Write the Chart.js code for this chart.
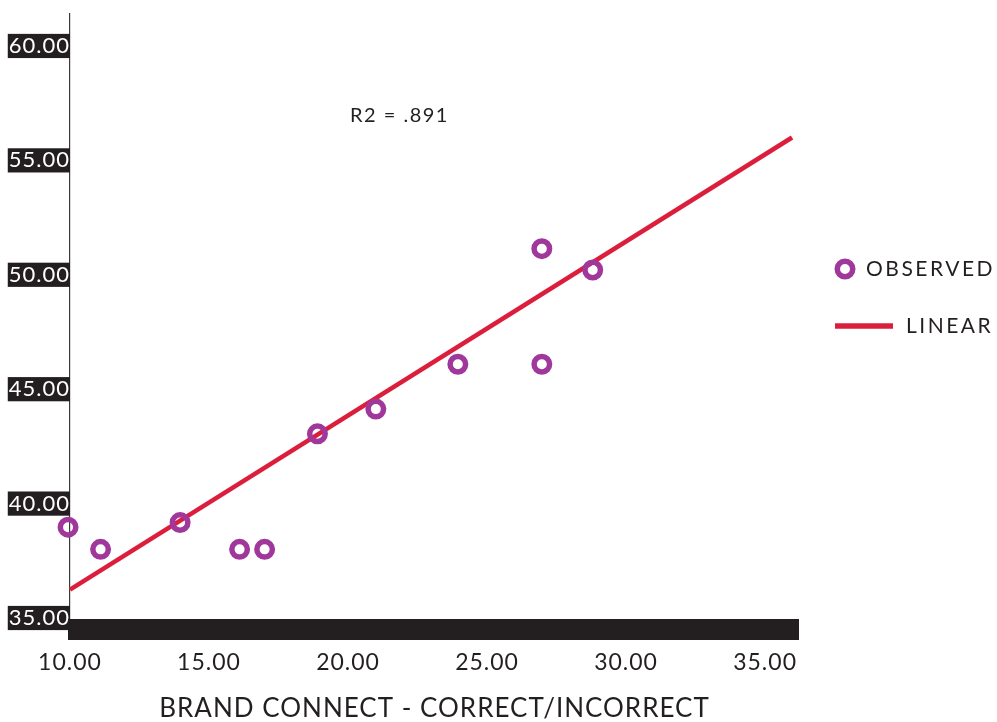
<!DOCTYPE html>
<html>
<head>
<meta charset="utf-8">
<title>Brand connect scatter</title>
<script src="https://cdn.jsdelivr.net/npm/chart.js@4.4.1/dist/chart.umd.min.js"></script>
<style>
    html, body { margin: 0; padding: 0; background: #fff; }
    #wrap { width: 997px; height: 722px; }
</style>
</head>
<body>
<div id="wrap"><canvas id="scatterChart"></canvas></div>
<script>
// values
const observedX = [9.93, 11.1, 13.96, 16.1, 17.0, 18.9, 21.0, 23.95, 26.97, 26.97, 28.8];
const observedY = [38.97, 38.0, 39.17, 38.0, 38.0, 43.05, 44.13, 46.09, 51.14, 46.09, 50.21];
const linearX = [10, 35.97];
const linearY = [36.24, 56.0];
const xTicks = [10, 15, 20, 25, 30, 35];
const yTicks = [35, 40, 45, 50, 55, 60];
const seriesNames = ['OBSERVED', 'LINEAR'];
const fitLabel = 'R2 = .891';
const xTitle = 'BRAND CONNECT - CORRECT/INCORRECT';

const INK = '#231f20';
const PURPLE = '#a0379b';
const RED = '#dc1e3d';

// a bit of tracking so Lato gets closer to the wide original lettering
const tracking = {
    id: 'tracking',
    beforeLayout(chart) { chart.ctx.letterSpacing = '1px'; },
    beforeDraw(chart) { chart.ctx.letterSpacing = '1px'; }
};

// black bar under the plot, the R2 note and the legend on the right
const extras = {
    id: 'extras',
    afterDraw(chart) {
        const { ctx, chartArea, scales } = chart;
        ctx.save();
        ctx.fillStyle = INK;
        ctx.fillRect(chartArea.left - 2, chartArea.bottom + 1, chartArea.right - chartArea.left + 2, 21);

        ctx.fillStyle = INK;
        ctx.font = '20px Lato';
        ctx.letterSpacing = '1.5px';
        ctx.textAlign = 'left';
        ctx.textBaseline = 'middle';
        ctx.fillText(fitLabel, scales.x.getPixelForValue(20.07), scales.y.getPixelForValue(56.95));

        // legend
        const obs = chart.data.datasets[0];
        const lin = chart.data.datasets[1];
        const lx = chartArea.right + 36;
        ctx.beginPath();
        ctx.arc(lx + 10, 269, obs.pointRadius, 0, Math.PI * 2);
        ctx.lineWidth = obs.pointBorderWidth;
        ctx.strokeStyle = obs.pointBorderColor;
        ctx.stroke();
        ctx.font = '21px Lato';
        ctx.letterSpacing = '2.5px';
        ctx.fillText(obs.label, lx + 31, 269);

        ctx.beginPath();
        ctx.moveTo(lx, 326);
        ctx.lineTo(lx + 58, 326);
        ctx.lineWidth = 5.5;
        ctx.strokeStyle = lin.borderColor;
        ctx.stroke();
        ctx.fillText(lin.label, lx + 71, 326);
        ctx.restore();
    }
};

const ctx = document.getElementById('scatterChart').getContext('2d');
const scatterChart = new Chart(ctx, {
    type: 'scatter',
    data: {
        datasets: [{
            label: seriesNames[0],
            data: observedX.map((x, i) => ({ x: x, y: observedY[i] })),
            pointRadius: 7.75,
            pointHoverRadius: 7.75,
            pointBorderWidth: 5.5,
            pointBorderColor: PURPLE,
            pointBackgroundColor: 'rgba(255,255,255,0)',
            clip: false
        }, {
            label: seriesNames[1],
            data: linearX.map((x, i) => ({ x: x, y: linearY[i] })),
            showLine: true,
            borderColor: RED,
            borderWidth: 4.5,
            pointRadius: 0,
            clip: false
        }]
    },
    options: {
        responsive: true,
        maintainAspectRatio: false,
        animation: false,
        layout: { padding: { left: 0, right: 198, top: 10, bottom: 0 } },
        plugins: {
            legend: { display: false },
            tooltip: { enabled: false }
        },
        scales: {
            x: {
                type: 'linear',
                min: 10,
                max: 36.22,
                afterBuildTicks: s => { s.ticks = xTicks.map(v => ({ value: v })); },
                afterFit: s => { s.height = 104; s.paddingLeft = 0; s.paddingRight = 0; },
                grid: { display: false, drawTicks: false },
                border: { display: false },
                ticks: {
                    color: INK,
                    font: { family: 'Lato', size: 23 },
                    padding: 31,
                    maxRotation: 0,
                    autoSkip: false,
                    callback: v => v.toFixed(2)
                },
                title: {
                    display: true,
                    text: xTitle,
                    color: INK,
                    font: { family: 'Lato', size: 26, lineHeight: 1 },
                    padding: 0
                }
            },
            y: {
                min: 35,
                max: 61.43,
                afterBuildTicks: s => { s.ticks = yTicks.map(v => ({ value: v })); },
                afterFit: s => { s.width = 70; s.paddingTop = 0; s.paddingBottom = 0; },
                grid: { display: false, drawTicks: false },
                border: { display: true, color: '#3a3a3a', width: 1.2 },
                ticks: {
                    color: '#ffffff',
                    font: { family: 'Lato', size: 22, lineHeight: 1.1 },
                    padding: 0,
                    showLabelBackdrop: true,
                    backdropColor: INK,
                    backdropPadding: { left: 1, right: 0, top: 0, bottom: 0 },
                    callback: v => v.toFixed(2)
                }
            }
        }
    },
    plugins: [tracking, extras]
});
</script>
</body>
</html>
